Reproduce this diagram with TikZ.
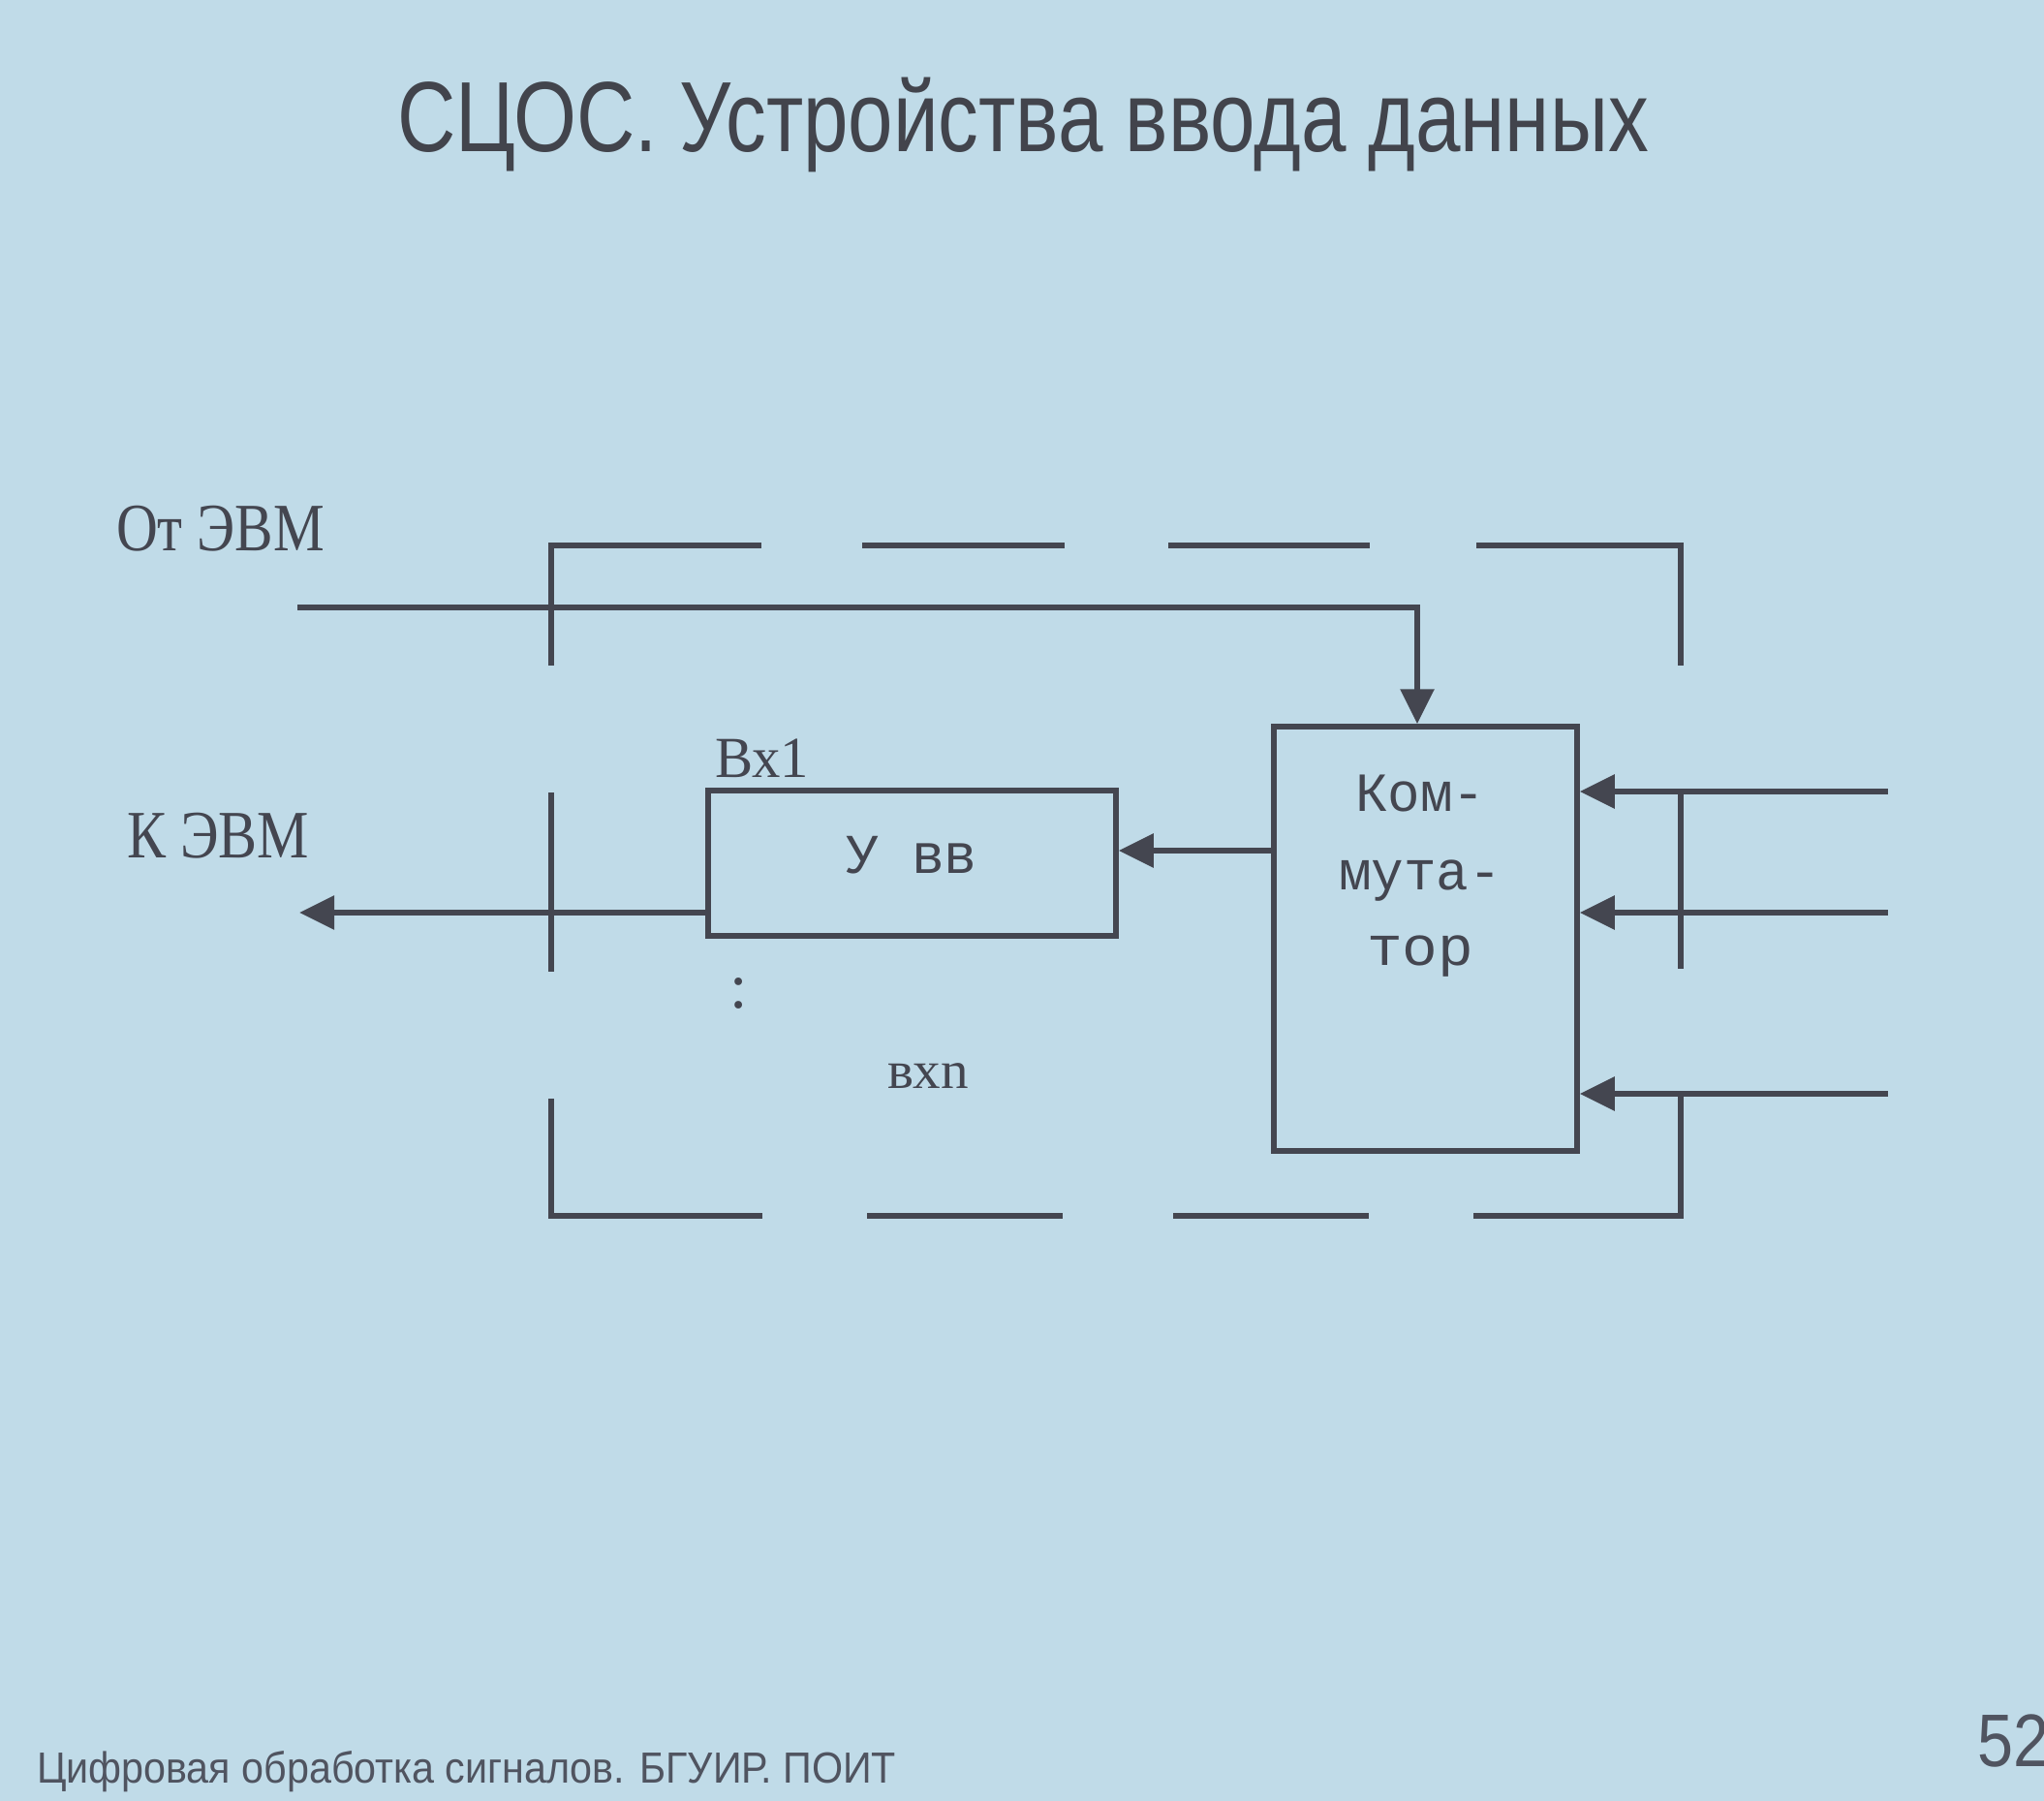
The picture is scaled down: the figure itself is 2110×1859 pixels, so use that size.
\documentclass[tikz,border=0pt]{standalone}
\usepackage{fontspec}
\usepackage{graphicx}
\usetikzlibrary{arrows.meta}
\setmainfont{Liberation Serif}
\newfontfamily\slidefont{Liberation Sans}
\newfontfamily\typefont{Liberation Mono}

\definecolor{slidebg}{RGB}{192,219,232}
\definecolor{ink}{RGB}{68,70,80}
\definecolor{titleink}{RGB}{66,68,76}
\definecolor{footink}{RGB}{80,84,96}

% scale a text horizontally to a given width, keeping its height
\newcommand\fitwidth[2]{\resizebox{#1}{\height}{#2}}

\tikzset{
  wire/.style={draw=ink, line width=6pt},
  sig/.style={wire, -{Triangle[length=36pt,width=34pt]}},
  blockbox/.style={draw=ink, line width=5.5pt, rectangle, inner sep=0pt},
  lbl/.style={inner sep=0pt, outer sep=0pt, text=ink},
}

\begin{document}
\begin{tikzpicture}[x=1pt,y=-1pt]
  \useasboundingbox (0,0) rectangle (2110,1859);
  \fill[slidebg] (0,0) rectangle (2110,1859);

  % slide title and footer
  \node[lbl, text=titleink, anchor=base west] (title) at (410,157)
    {\fitwidth{1292pt}{\slidefont\fontsize{103}{110}\selectfont СЦОС. Устройства ввода данных}};
  \node[lbl, text=footink, anchor=base west] (footer) at (38,1840)
    {\fitwidth{887pt}{\slidefont\fontsize{45}{50}\selectfont Цифровая обработка сигналов. БГУИР. ПОИТ}};
  \node[lbl, text=footink, anchor=base west] (pageno) at (2041,1823)
    {\fitwidth{74pt}{\slidefont\fontsize{77}{80}\selectfont 52}};

  % blocks
  \node[blockbox, minimum width=421pt, minimum height=150pt] (uvv) at (941.5,891) {};
  \node[blockbox, minimum width=313pt, minimum height=438pt] (comm) at (1471.5,969) {};

  % block texts
  \node[lbl, anchor=base west] (uvvtext) at (873,901)
    {\fitwidth{136pt}{\typefont\fontsize{58}{60}\selectfont У вв}};
  \node[lbl, anchor=base] (commA) at (1466,837)
    {\fitwidth{134pt}{\typefont\fontsize{57}{60}\selectfont Ком-}};
  \node[lbl, anchor=base] (commB) at (1466,918)
    {\fitwidth{168pt}{\typefont\fontsize{57}{60}\selectfont мута-}};
  \node[lbl, anchor=base] (commC) at (1466,996)
    {\fitwidth{110pt}{\typefont\fontsize{57}{60}\selectfont тор}};

  % labels
  \node[lbl, anchor=base west] (fromcpu) at (120,568)
    {\fitwidth{215pt}{\fontsize{70}{75}\selectfont От ЭВМ}};
  \node[lbl, anchor=base west] (tocpu) at (131,885)
    {\fitwidth{188pt}{\fontsize{70}{75}\selectfont К ЭВМ}};
  \node[lbl, anchor=base west] (in1lbl) at (738,802)
    {\fitwidth{97pt}{\fontsize{60}{64}\selectfont Вх1}};
  \node[lbl, anchor=base] (vdots) at (763,1040)
    {\fontsize{66}{70}\selectfont :};
  \node[lbl, anchor=base west] (innlbl) at (916,1123)
    {\fitwidth{84pt}{\fontsize{55}{60}\selectfont вхn}};

  % signal lines
  \coordinate (otsrc) at (307,627);
  \coordinate (otbend) at (1463,627);
  \draw[sig] (otsrc) -- (otbend) -- (otbend |- comm.north);

  \coordinate (c2u) at (comm.west |- 0,878);
  \draw[sig] (c2u) -- (c2u -| uvv.east);

  \coordinate (kdst) at (309,942);
  \draw[sig] (uvv.west |- kdst) -- (kdst);

  \coordinate (in1) at (1949,817);
  \coordinate (in2) at (1949,942);
  \coordinate (in3) at (1949,1129);
  \draw[sig] (in1) -- (in1 -| comm.east);
  \draw[sig] (in2) -- (in2 -| comm.east);
  \draw[sig] (in3) -- (in3 -| comm.east);

  % broken outline of the input unit
  \draw[wire] (569,687) -- (569,563) -- (786,563);
  \draw[wire] (890,563) -- (1099,563);
  \draw[wire] (1206,563) -- (1414,563);
  \draw[wire] (1524,563) -- (1735,563) -- (1735,687);
  \draw[wire] (569,818) -- (569,1003);
  \draw[wire] (1735,817) -- (1735,1000);
  \draw[wire] (569,1134) -- (569,1255) -- (787,1255);
  \draw[wire] (895,1255) -- (1097,1255);
  \draw[wire] (1211,1255) -- (1413,1255);
  \draw[wire] (1521,1255) -- (1735,1255) -- (1735,1129);
\end{tikzpicture}
\end{document}
